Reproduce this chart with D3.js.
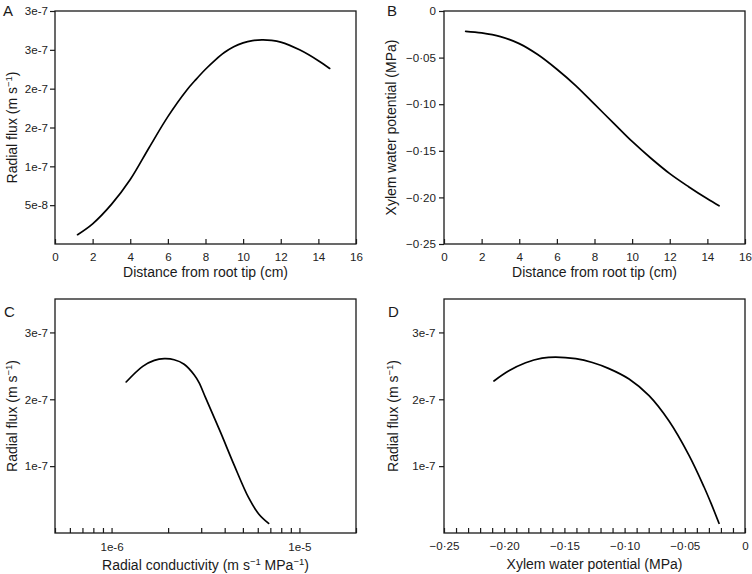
<!DOCTYPE html>
<html><head><meta charset="utf-8">
<script src="https://cdn.jsdelivr.net/npm/d3@7"></script>
<style>
body{margin:0;background:#fff}
text{font-family:"Liberation Sans",Arial,Helvetica,sans-serif;}
</style>
</head><body>
<svg id="chart" width="752" height="574"></svg>
<script>
// ---------- DATA ----------
// Panel A: radial flux vs distance from root tip
const aDistance = [1.2, 2, 3, 4, 5, 6, 7, 7.5, 8, 8.5, 9, 9.5, 10, 10.5, 11, 11.5, 12, 13, 14, 14.6];
const aFlux = [0.12e-7, 0.26e-7, 0.51e-7, 0.83e-7, 1.24e-7, 1.64e-7, 1.98e-7, 2.12e-7, 2.25e-7, 2.365e-7, 2.465e-7, 2.54e-7, 2.59e-7, 2.618e-7, 2.628e-7, 2.622e-7, 2.60e-7, 2.50e-7, 2.36e-7, 2.26e-7];
// Panel B: xylem water potential vs distance
const bDistance = [1.15, 2, 3, 4, 5, 6, 7, 8, 9, 10, 11, 12, 13, 14, 14.62];
const bPotential = [-0.0218, -0.0235, -0.0275, -0.035, -0.047, -0.0625, -0.080, -0.100, -0.120, -0.140, -0.158, -0.1745, -0.1885, -0.2015, -0.209];
// Panel C: radial flux vs radial conductivity (log x)
const cConductivity = [1.196e-6, 1.465e-6, 1.689e-6, 1.908e-6, 2.154e-6, 2.434e-6, 2.75e-6, 2.922e-6, 3.168e-6, 3.804e-6, 4.476e-6, 5.373e-6, 6.07e-6, 6.855e-6];
const cFlux = [2.259e-7, 2.493e-7, 2.582e-7, 2.607e-7, 2.592e-7, 2.525e-7, 2.368e-7, 2.249e-7, 2.02e-7, 1.505e-7, 1.027e-7, 0.524e-7, 0.285e-7, 0.143e-7];
// Panel D: radial flux vs xylem water potential
const dPotential = [-0.2085, -0.1961, -0.1822, -0.1686, -0.1573, -0.1406, -0.1268, -0.113, -0.0963, -0.0797, -0.0631, -0.0465, -0.0341, -0.028, -0.0216];
const dFlux = [2.274e-7, 2.426e-7, 2.546e-7, 2.615e-7, 2.632e-7, 2.607e-7, 2.55e-7, 2.459e-7, 2.303e-7, 2.054e-7, 1.674e-7, 1.161e-7, 0.692e-7, 0.435e-7, 0.145e-7];

// Tick values / labels
const distTicks = [0, 2, 4, 6, 8, 10, 12, 14, 16];
const distTickLabels = ["0", "2", "4", "6", "8", "10", "12", "14", "16"];
const aFluxTicks = [5e-8, 1e-7, 1.5e-7, 2e-7, 2.5e-7, 3e-7];
const aFluxTickLabels = ["5e-8", "1e-7", "2e-7", "2e-7", "3e-7", "3e-7"];
const potTicks = [0, -0.05, -0.10, -0.15, -0.20, -0.25];
const potTickLabels = ["0", "\u22120\u00b705", "\u22120\u00b710", "\u22120\u00b715", "\u22120\u00b720", "\u22120\u00b725"];
const cdFluxTicks = [1e-7, 2e-7, 3e-7];
const cdFluxTickLabels = ["1e-7", "2e-7", "3e-7"];
const condLabelTicks = [1e-6, 1e-5];
const condTickLabels = ["1e-6", "1e-5"];
const potLabelTicksD = [-0.25, -0.20, -0.15, -0.10, -0.05, 0];
const potTickLabelsD = ["\u22120\u00b725", "\u22120\u00b720", "\u22120\u00b715", "\u22120\u00b710", "\u22120\u00b705", "0"];

// ---------- DRAWING ----------
const svg = d3.select("#chart");
const TICK_FONT = 11.6, TITLE_FONT = 14, INK = "#1a1a1a";

function fmtFrom(vals, labels) {
  return v => { const i = vals.findIndex(t => Math.abs(t - v) < Math.abs(v) * 1e-6 + 1e-12); return i >= 0 ? labels[i] : ""; };
}

function addRichText(sel, parts) {
  parts.forEach(p => {
    if (p.sup) {
      sel.append("tspan").attr("dy", -5).attr("font-size", 9.5).text(p.t);
    } else {
      const ts = sel.append("tspan").text(p.t);
      if (p.after) ts.attr("dy", 5);
    }
  });
}

function panel(o) {
  const g = svg.append("g");
  const x = o.x, y = o.y;
  g.append("rect").attr("x", o.left).attr("y", o.top)
    .attr("width", o.right - o.left).attr("height", o.bottom - o.top)
    .attr("fill", "none").attr("stroke", INK).attr("stroke-width", 1.3);

  const xa = d3.axisBottom(x).tickValues(o.xTickVals).tickSizeInner(-5).tickSizeOuter(0)
    .tickPadding(o.xPad).tickFormat(o.xFmt);
  const gx = g.append("g").attr("transform", `translate(0,${o.bottom})`).call(xa);
  gx.select(".domain").remove();
  gx.selectAll(".tick line").attr("stroke", INK).attr("stroke-width", 1.2);
  gx.selectAll(".tick text").attr("font-size", TICK_FONT).attr("fill", "#222")
    .style("font-family", '"Liberation Sans",Arial,sans-serif');

  const ya = d3.axisLeft(y).tickValues(o.yTickVals).tickSizeInner(5).tickSizeOuter(0)
    .tickPadding(o.yPad).tickFormat(o.yFmt);
  const gy = g.append("g").attr("transform", `translate(${o.left},0)`).call(ya);
  gy.select(".domain").remove();
  gy.selectAll(".tick line").attr("stroke", INK).attr("stroke-width", 1.2);
  gy.selectAll(".tick text").attr("font-size", TICK_FONT).attr("fill", "#222")
    .style("font-family", '"Liberation Sans",Arial,sans-serif');

  const line = d3.line().x(d => x(d[0])).y(d => y(d[1])).curve(d3.curveCatmullRom.alpha(0.5));
  const pts = o.xs.map((v, i) => [v, o.ys[i]]);
  g.append("path").datum(pts).attr("d", line)
    .attr("fill", "none").attr("stroke", "#000").attr("stroke-width", 1.7)
    .attr("stroke-linejoin", "round").attr("stroke-linecap", "round");

  g.append("text").attr("x", o.letterX).attr("y", o.letterY).attr("font-size", 15)
    .attr("fill", INK).text(o.letter);

  const xt = g.append("text").attr("x", (o.left + o.right) / 2).attr("y", o.xTitleY)
    .attr("text-anchor", "middle").attr("font-size", TITLE_FONT).attr("fill", INK);
  addRichText(xt, o.xTitle);

  const cy = (o.top + o.bottom) / 2;
  const yt = g.append("text").attr("transform", `translate(${o.yTitleX},${cy}) rotate(-90)`)
    .attr("text-anchor", "middle").attr("font-size", TITLE_FONT).attr("fill", INK);
  addRichText(yt, o.yTitle);
}

const fluxTitle = [{t: "Radial flux (m s"}, {t: "\u22121", sup: true}, {t: ")", after: true}];

panel({
  letter: "A", letterX: 3, letterY: 16,
  left: 55, right: 356, top: 11, bottom: 244,
  x: d3.scaleLinear().domain([0, 16]).range([55, 356]),
  y: d3.scaleLinear().domain([0, 3e-7]).range([244, 11]),
  xTickVals: distTicks, xFmt: fmtFrom(distTicks, distTickLabels), xPad: 8.3,
  yTickVals: aFluxTicks, yFmt: fmtFrom(aFluxTicks, aFluxTickLabels), yPad: 2,
  xs: aDistance, ys: aFlux,
  xTitle: [{t: "Distance from root tip (cm)"}], xTitleY: 277,
  yTitle: fluxTitle, yTitleX: 17
});

panel({
  letter: "B", letterX: 387, letterY: 16,
  left: 444, right: 745, top: 11, bottom: 244,
  x: d3.scaleLinear().domain([0, 16]).range([444, 745]),
  y: d3.scaleLinear().domain([-0.25, 0]).range([244, 11]),
  xTickVals: distTicks, xFmt: fmtFrom(distTicks, distTickLabels), xPad: 8.3,
  yTickVals: potTicks, yFmt: fmtFrom(potTicks, potTickLabels), yPad: 3,
  xs: bDistance, ys: bPotential,
  xTitle: [{t: "Distance from root tip (cm)"}], xTitleY: 277,
  yTitle: [{t: "Xylem water potential (MPa)"}], yTitleX: 396
});

const cx = d3.scaleLog().domain([5e-7, 2e-5]).range([55, 356]);
panel({
  letter: "C", letterX: 4, letterY: 317,
  left: 55, right: 356, top: 299, bottom: 533,
  x: cx,
  y: d3.scaleLinear().domain([0, 3.5e-7]).range([533, 299]),
  xTickVals: cx.ticks(), xFmt: fmtFrom(condLabelTicks, condTickLabels), xPad: 9.5,
  yTickVals: cdFluxTicks, yFmt: fmtFrom(cdFluxTicks, cdFluxTickLabels), yPad: 2,
  xs: cConductivity, ys: cFlux,
  xTitle: [{t: "Radial conductivity (m s"}, {t: "\u22121", sup: true}, {t: " MPa", after: true}, {t: "\u22121", sup: true}, {t: ")", after: true}],
  xTitleY: 570,
  yTitle: fluxTitle, yTitleX: 17
});

const dx = d3.scaleLinear().domain([-0.25, 0]).range([444, 745]);
panel({
  letter: "D", letterX: 388, letterY: 317,
  left: 444, right: 745, top: 299, bottom: 533,
  x: dx,
  y: d3.scaleLinear().domain([0, 3.5e-7]).range([533, 299]),
  xTickVals: dx.ticks(25), xFmt: fmtFrom(potLabelTicksD, potTickLabelsD), xPad: 9,
  yTickVals: cdFluxTicks, yFmt: fmtFrom(cdFluxTicks, cdFluxTickLabels), yPad: 3.5,
  xs: dPotential, ys: dFlux,
  xTitle: [{t: "Xylem water potential (MPa)"}], xTitleY: 569,
  yTitle: fluxTitle, yTitleX: 398
});
</script>
</body></html>
